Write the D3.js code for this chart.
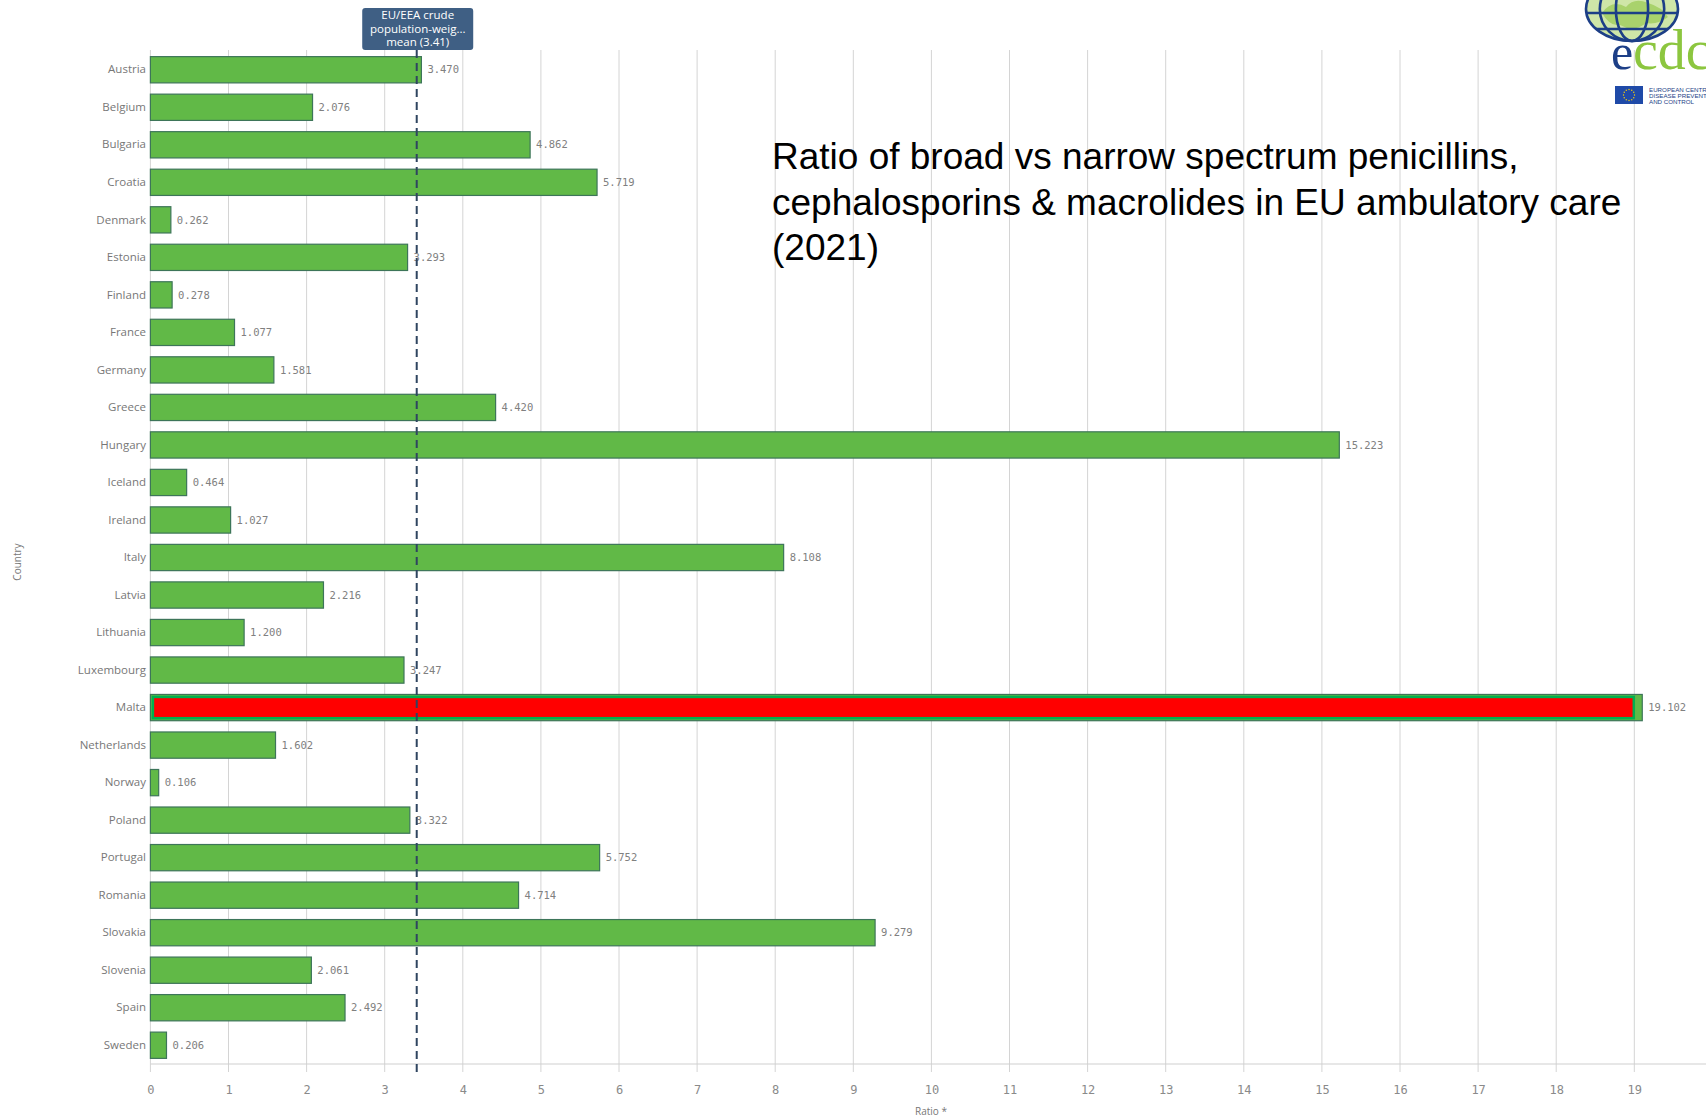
<!DOCTYPE html>
<html>
<head>
<meta charset="utf-8">
<script src="https://cdn.jsdelivr.net/npm/d3@7"></script>
<style>
  html, body { margin: 0; padding: 0; background: #fff; }
  svg { display: block; }
</style>
</head>
<body>
<svg id="chart" width="1706" height="1118"></svg>
<script>
// Countries and their broad/narrow spectrum ratio, 2021
const countries = ["Austria","Belgium","Bulgaria","Croatia","Denmark","Estonia","Finland","France","Germany","Greece","Hungary","Iceland","Ireland","Italy","Latvia","Lithuania","Luxembourg","Malta","Netherlands","Norway","Poland","Portugal","Romania","Slovakia","Slovenia","Spain","Sweden"];
const ratios = [3.470,2.076,4.862,5.719,0.262,3.293,0.278,1.077,1.581,4.420,15.223,0.464,1.027,8.108,2.216,1.200,3.247,19.102,1.602,0.106,3.322,5.752,4.714,9.279,2.061,2.492,0.206];
const xTicks = [0,1,2,3,4,5,6,7,8,9,10,11,12,13,14,15,16,17,18,19,20];
const meanValue = 3.41;
const meanLabel = ["EU/EEA crude", "population-weig...", "mean (3.41)"];
const highlightCountry = "Malta";
const highlightEnd = 19.0;
const titleLines = ["Ratio of broad vs narrow spectrum penicillins,", "cephalosporins & macrolides in EU ambulatory care", "(2021)"];

const data = countries.map((c, i) => ({ country: c, value: ratios[i] }));

const svg = d3.select("#chart");
const margin = { top: 51, bottom: 1064, left: 150.4 };

const x = d3.scaleLinear().domain([0, 20]).range([margin.left, margin.left + 20 * 78.1]);
const y = d3.scaleBand().domain(countries).range([margin.top, margin.bottom]).paddingInner(0.3).paddingOuter(0.15);

// vertical gridlines, running a little below the baseline as ticks
svg.append("g").selectAll("line").data(xTicks).join("line")
  .attr("x1", d => x(d)).attr("x2", d => x(d))
  .attr("y1", 50).attr("y2", 1072)
  .attr("stroke", "#d4d4d4").attr("stroke-width", 1);

// baseline
svg.append("line")
  .attr("x1", x(0)).attr("x2", 1706)
  .attr("y1", margin.bottom).attr("y2", margin.bottom)
  .attr("stroke", "#cfcfcf").attr("stroke-width", 1);

// x axis tick labels
const xAxis = d3.axisBottom(x).tickValues(xTicks).tickSize(0).tickPadding(0).tickFormat(d3.format("d"));
const gx = svg.append("g").attr("transform", `translate(0,${1094})`).call(xAxis);
gx.select(".domain").remove();
gx.selectAll("text")
  .attr("dy", 0)
  .attr("font-family", "'DejaVu Sans Mono', monospace")
  .attr("font-size", 12)
  .attr("fill", "#8a8a8a");

// y axis country labels
const yAxis = d3.axisLeft(y).tickSize(0).tickPadding(0);
const gy = svg.append("g").attr("transform", `translate(146,0)`).call(yAxis);
gy.select(".domain").remove();
gy.selectAll("text")
  .attr("font-family", "'Open Sans', 'Noto Sans', sans-serif")
  .attr("font-size", 11.5)
  .attr("fill", "#777");

// bars
svg.append("g").selectAll("rect").data(data).join("rect")
  .attr("x", x(0))
  .attr("y", d => y(d.country))
  .attr("width", d => x(d.value) - x(0))
  .attr("height", y.bandwidth())
  .attr("fill", "#61b947")
  .attr("stroke", "#3d7559")
  .attr("stroke-width", 1.2);

// highlight box over Malta's bar
const hy = y(highlightCountry);
svg.append("rect")
  .attr("x", x(0) + 2.5)
  .attr("y", hy + 2.5)
  .attr("width", x(highlightEnd) - x(0) - 3)
  .attr("height", y.bandwidth() - 5)
  .attr("fill", "#ff0000")
  .attr("stroke", "#00b050")
  .attr("stroke-width", 2.5);

// value labels
svg.append("g").selectAll("text").data(data).join("text")
  .attr("x", d => x(d.value) + 6)
  .attr("y", d => y(d.country) + y.bandwidth() / 2)
  .attr("dy", "0.35em")
  .attr("font-family", "'DejaVu Sans Mono', monospace")
  .attr("font-size", 10.5)
  .attr("fill", "#808080")
  .text(d => d3.format(".3f")(d.value));

// mean reference line
svg.append("line")
  .attr("x1", x(meanValue)).attr("x2", x(meanValue))
  .attr("y1", 50).attr("y2", 1072)
  .attr("stroke", "#2f4560")
  .attr("stroke-width", 2)
  .attr("stroke-dasharray", "8,5");

// mean label box
const boxW = 111, boxH = 42;
svg.append("rect")
  .attr("x", x(meanValue) - boxW / 2 + 1)
  .attr("y", 8)
  .attr("width", boxW).attr("height", boxH)
  .attr("rx", 3)
  .attr("fill", "#3f5f84");
svg.append("g").selectAll("text").data(meanLabel).join("text")
  .attr("x", x(meanValue) + 1)
  .attr("y", (d, i) => 19 + i * 13.5)
  .attr("text-anchor", "middle")
  .attr("font-family", "'Open Sans', 'Noto Sans', sans-serif")
  .attr("font-size", 11.5)
  .attr("fill", "#fff")
  .text(d => d);

// axis titles
svg.append("text")
  .attr("x", 931).attr("y", 1115)
  .attr("text-anchor", "middle")
  .attr("font-family", "'Open Sans', 'Noto Sans', sans-serif")
  .attr("font-size", 10)
  .attr("fill", "#777")
  .text("Ratio *");
svg.append("text")
  .attr("transform", "translate(21,562) rotate(-90)")
  .attr("text-anchor", "middle")
  .attr("font-family", "'Open Sans', 'Noto Sans', sans-serif")
  .attr("font-size", 10)
  .attr("fill", "#777")
  .text("Country");

// chart title
svg.append("g").selectAll("text").data(titleLines).join("text")
  .attr("x", 772)
  .attr("y", (d, i) => 169 + i * 45.5)
  .attr("font-family", "'Liberation Sans', Arial, sans-serif")
  .attr("font-size", 37)
  .attr("fill", "#000")
  .text(d => d);

// ECDC logo in the top-right corner
const logo = svg.append("g");
const navy = "#1d3f87", lime = "#8cc63f";
const gcx = 1632, gcy = 9, grx = 46, gry = 32;
logo.append("ellipse").attr("cx", gcx).attr("cy", gcy).attr("rx", grx).attr("ry", gry)
  .attr("fill", "#cfe6a8");
logo.append("path")
  .attr("d", `M${gcx-30},${gcy+4} q10,-14 24,-6 q8,-10 22,-4 q14,4 20,14 q-10,8 -22,6 q-12,10 -26,2 q-10,2 -18,-12z`)
  .attr("fill", "#a9d26c");
[0.35, 0.7, 1].forEach(k => {
  logo.append("ellipse").attr("cx", gcx).attr("cy", gcy).attr("rx", grx * k).attr("ry", gry)
    .attr("fill", "none").attr("stroke", navy).attr("stroke-width", 2.6);
});
[-14, 4, 20].forEach(dy => {
  const half = grx * Math.sqrt(Math.max(0, 1 - (dy * dy) / (gry * gry)));
  logo.append("line").attr("x1", gcx - half).attr("x2", gcx + half)
    .attr("y1", gcy + dy).attr("y2", gcy + dy)
    .attr("stroke", navy).attr("stroke-width", 2.6);
});
logo.append("text").attr("x", 1611).attr("y", 69)
  .attr("font-family", "'Liberation Serif', 'DejaVu Serif', serif")
  .attr("font-size", 50).attr("fill", navy).text("e");
logo.append("text").attr("x", 1633).attr("y", 69)
  .attr("font-family", "'Liberation Serif', 'DejaVu Serif', serif")
  .attr("font-size", 56).attr("fill", lime).text("cdc");
logo.append("rect").attr("x", 1615).attr("y", 86).attr("width", 28).attr("height", 18)
  .attr("fill", "#1f4aa8");
d3.range(12).forEach(i => {
  const a = i / 12 * 2 * Math.PI;
  logo.append("circle").attr("cx", 1629 + 5.5 * Math.cos(a)).attr("cy", 95 + 5.5 * Math.sin(a))
    .attr("r", 0.7).attr("fill", "#ffd200");
});
["EUROPEAN CENTRE FOR", "DISEASE PREVENTION", "AND CONTROL"].forEach((t, i) => {
  logo.append("text").attr("x", 1649).attr("y", 92 + i * 6)
    .attr("font-family", "'Liberation Sans', Arial, sans-serif")
    .attr("font-size", 6.2).attr("fill", navy).text(t);
});
</script>
</body>
</html>
